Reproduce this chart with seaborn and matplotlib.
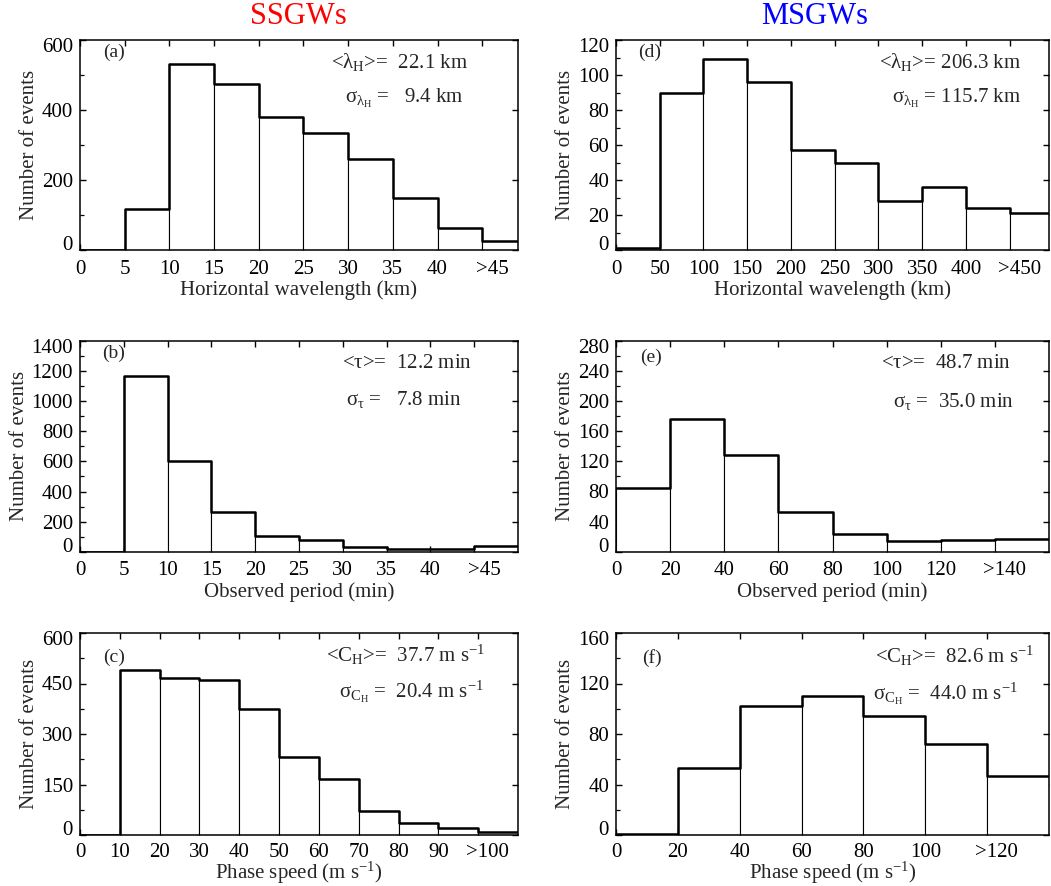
import numpy as np
import pandas as pd
import matplotlib
matplotlib.use("Agg")
import matplotlib.pyplot as plt
import matplotlib.transforms as mtransforms
from matplotlib.ticker import MultipleLocator
import seaborn as sns

# ---------------- data ----------------
# SSGWs horizontal wavelength (km)
a_edges = [0, 5, 10, 15, 20, 25, 30, 35, 40, 45, 50]
a_counts = [0, 118, 530, 474, 381, 335, 261, 149, 64, 26]
a_ticks = [0, 5, 10, 15, 20, 25, 30, 35, 40, 45]
a_ticklabels = ["0", "5", "10", "15", "20", "25", "30", "35", "40", ">45"]

# SSGWs observed period (min)
b_edges = [0, 5, 10, 15, 20, 25, 30, 35, 40, 45, 50]
b_counts = [0, 1169, 600, 264, 104, 80, 33, 18, 20, 38]
b_ticks = [0, 5, 10, 15, 20, 25, 30, 35, 40, 45]
b_ticklabels = ["0", "5", "10", "15", "20", "25", "30", "35", "40", ">45"]

# SSGWs phase speed (m/s)
c_edges = [0, 10, 20, 30, 40, 50, 60, 70, 80, 90, 100, 110]
c_counts = [0, 490, 465, 460, 374, 233, 166, 70, 36, 21, 10]
c_ticks = [0, 10, 20, 30, 40, 50, 60, 70, 80, 90, 100]
c_ticklabels = ["0", "10", "20", "30", "40", "50", "60", "70", "80", "90", ">100"]

# MSGWs horizontal wavelength (km)
d_edges = [0, 50, 100, 150, 200, 250, 300, 350, 400, 450, 500]
d_counts = [1, 90, 109, 96, 57, 50, 28, 36, 24, 21]
d_ticks = [0, 50, 100, 150, 200, 250, 300, 350, 400, 450]
d_ticklabels = ["0", "50", "100", "150", "200", "250", "300", "350", "400", ">450"]

# MSGWs observed period (min)
e_edges = [0, 20, 40, 60, 80, 100, 120, 140, 160]
e_counts = [84, 176, 128, 53, 24, 14, 15, 17]
e_ticks = [0, 20, 40, 60, 80, 100, 120, 140]
e_ticklabels = ["0", "20", "40", "60", "80", "100", "120", ">140"]

# MSGWs phase speed (m/s)
f_edges = [0, 20, 40, 60, 80, 100, 120, 140]
f_counts = [1, 53, 102, 110, 94, 72, 47]
f_ticks = [0, 20, 40, 60, 80, 100, 120]
f_ticklabels = ["0", "20", "40", "60", "80", "100", ">120"]

column_titles = ["SSGWs", "MSGWs"]

# ---------------- style ----------------
sns.set_theme(style="ticks")
plt.rcParams["font.family"] = ["Liberation Serif", "DejaVu Serif"]
plt.rcParams["mathtext.fontset"] = "custom"
plt.rcParams["mathtext.rm"] = "Liberation Serif"
plt.rcParams["mathtext.it"] = "Liberation Serif"
plt.rcParams["mathtext.bf"] = "Liberation Serif:bold"
plt.rcParams["mathtext.fallback"] = "stix"
plt.rcParams["axes.linewidth"] = 1.1

fig = plt.figure(figsize=(10.51, 8.86), dpi=100)

W, H = 1051.0, 886.0
def axpos(x0, x1, y0, y1):
    return [x0 / W, 1 - y1 / H, (x1 - x0) / W, (y1 - y0) / H]

panels = [
    dict(pos=axpos(80, 518, 40, 250), edges=a_edges, counts=a_counts, ticks=a_ticks,
         labels=a_ticklabels, xlim=49, ylim=600, ymaj=200, ymin=100,
         xlabel="Horizontal wavelength (km)", xpad=1, tpad=7, tag="(a)",
         s1=r"<$\lambda_{\mathrm{H}}$>=  22.1 km", s1p=(0.886, 0.895),
         s2=r"$\sigma_{\lambda_{\mathrm{H}}}$ =   9.4 km", s2p=(0.877, 0.724), tagp=(0.053, 0.943)),
    dict(pos=axpos(80, 518, 341, 551.7), edges=b_edges, counts=b_counts, ticks=b_ticks,
         labels=b_ticklabels, xlim=50, ylim=1400, ymaj=200, ymin=100,
         xlabel="Observed period (min)", xpad=1, tpad=7, tag="(b)",
         s1=r"<$\tau$>=  12.2 min", s1p=(0.896, 0.894),
         s2=r"$\sigma_{\tau}$ =   7.8 min", s2p=(0.871, 0.72), tagp=(0.05, 0.943)),
    dict(pos=axpos(80, 518, 633, 835), edges=c_edges, counts=c_counts, ticks=c_ticks,
         labels=c_ticklabels, xlim=110, ylim=600, ymaj=150, ymin=75,
         xlabel=r"Phase speed (m s$^{-1}$)", xpad=-1, tpad=5.5, tag="(c)",
         s1=r"<C$_{\mathrm{H}}$>=  37.7 m s$^{-1}$", s1p=(0.925, 0.891),
         s2=r"$\sigma_{\mathrm{C_H}}$ =  20.4 m s$^{-1}$", s2p=(0.922, 0.709), tagp=(0.052, 0.881)),
    dict(pos=axpos(616, 1049, 40, 250), edges=d_edges, counts=d_counts, ticks=d_ticks,
         labels=d_ticklabels, xlim=495, ylim=120, ymaj=20, ymin=10,
         xlabel="Horizontal wavelength (km)", xpad=1, tpad=7, tag="(d)",
         s1=r"<$\lambda_{\mathrm{H}}$>= 206.3 km", s1p=(0.935, 0.895),
         s2=r"$\sigma_{\lambda_{\mathrm{H}}}$ = 115.7 km", s2p=(0.935, 0.724), tagp=(0.052, 0.943)),
    dict(pos=axpos(616, 1049, 341, 551.7), edges=e_edges, counts=e_counts, ticks=e_ticks,
         labels=e_ticklabels, xlim=160, ylim=280, ymaj=40, ymin=20,
         xlabel="Observed period (min)", xpad=1, tpad=7, tag="(e)",
         s1=r"<$\tau$>=  48.7 min", s1p=(0.912, 0.891),
         s2=r"$\sigma_{\tau}$ =  35.0 min", s2p=(0.92, 0.715), tagp=(0.055, 0.924)),
    dict(pos=axpos(616, 1049, 633, 835), edges=f_edges, counts=f_counts, ticks=f_ticks,
         labels=f_ticklabels, xlim=140, ylim=160, ymaj=40, ymin=20,
         xlabel=r"Phase speed (m s$^{-1}$)", xpad=-1, tpad=5.5, tag="(f)",
         s1=r"<C$_{\mathrm{H}}$>=  82.6 m s$^{-1}$", s1p=(0.965, 0.886),
         s2=r"$\sigma_{\mathrm{C_H}}$ =  44.0 m s$^{-1}$", s2p=(0.928, 0.698), tagp=(0.06, 0.876)),
]

FS = 15
xoff = mtransforms.ScaledTranslation(7 / 72, 0, fig.dpi_scale_trans)
yup = mtransforms.ScaledTranslation(0, 5 / 72, fig.dpi_scale_trans)
ydown = mtransforms.ScaledTranslation(0, -3.5 / 72, fig.dpi_scale_trans)

for p in panels:
    ax = fig.add_axes(p["pos"])
    edges = [float(e) for e in p["edges"]]
    centers = [0.5 * (edges[i] + edges[i + 1]) for i in range(len(edges) - 1)]
    df = pd.DataFrame({"x": centers, "n": [float(c) for c in p["counts"]]})
    # individual bars (thin dividers)
    sns.histplot(data=df, x="x", weights="n", bins=edges, ax=ax, element="bars",
                 fill=True, color="white", edgecolor="black", linewidth=0.8, alpha=1)
    # thick histogram outline
    sns.histplot(data=df, x="x", weights="n", bins=edges, ax=ax, element="step",
                 fill=False, color="black", linewidth=1.8)
    ax.set_xlim(0, p["xlim"])
    ax.set_ylim(0, p["ylim"])
    ax.set_xticks(p["ticks"])
    ax.set_xticklabels(p["labels"])
    ax.set_yticks(np.arange(0, p["ylim"] + 1, p["ymaj"]))
    ax.yaxis.set_minor_locator(MultipleLocator(p["ymin"]))
    ax.tick_params(axis="both", which="both", direction="in", top=True, right=True,
                   labelsize=FS, colors="black")
    ax.tick_params(axis="both", which="major", length=4.5, width=1.0)
    ax.tick_params(axis="y", which="minor", length=2.8, width=0.9, right=False)
    ax.tick_params(axis="x", which="major", pad=p["tpad"])
    ax.tick_params(axis="y", which="major", pad=5)
    ax.set_xlabel(p["xlabel"], fontsize=FS, labelpad=p["xpad"])
    ax.set_ylabel("Number of events", fontsize=FS, labelpad=2)
    for sp in ax.spines.values():
        sp.set_linewidth(1.1)
        sp.set_color("black")
    ax.text(p["tagp"][0], p["tagp"][1], p["tag"], transform=ax.transAxes,
            ha="left", va="center", fontsize=14)
    ax.text(p["s1p"][0], p["s1p"][1], p["s1"], transform=ax.transAxes,
            ha="right", va="center", fontsize=FS)
    ax.text(p["s2p"][0], p["s2p"][1], p["s2"], transform=ax.transAxes,
            ha="right", va="center", fontsize=FS)
    # end labels placed inside like the original
    ylabs = ax.get_yticklabels()
    ylabs[0].set_transform(ylabs[0].get_transform() + yup)
    ylabs[-1].set_transform(ylabs[-1].get_transform() + ydown)
    xlabs = ax.get_xticklabels()
    xlabs[-1].set_transform(xlabs[-1].get_transform() + xoff)

fig.text(298 / W, 1 - 17 / H, column_titles[0], color="#ff0000", fontsize=22,
         ha="center", va="center")
fig.text(815 / W, 1 - 17 / H, column_titles[1], color="#0000ff", fontsize=22,
         ha="center", va="center")

fig.savefig("out.png", dpi=100, facecolor="white")
